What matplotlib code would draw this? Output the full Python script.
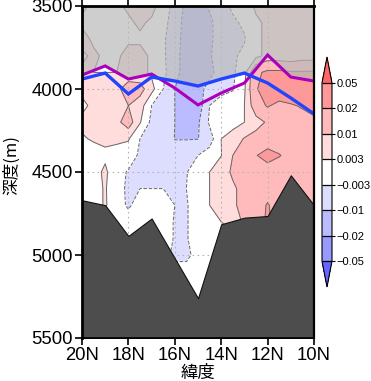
import numpy as np
import matplotlib
matplotlib.use("Agg")
import matplotlib.pyplot as plt
from matplotlib.colors import ListedColormap, BoundaryNorm

lats = [20, 19.5, 19, 18.5, 18, 17.5, 17, 16.5, 16, 15.5, 15, 14.5, 14, 13.5, 13, 12.5, 12, 11.5, 11, 10.5, 10]
depths = [3500, 3600, 3700, 3800, 3900, 4000, 4100, 4200, 4300, 4400, 4500, 4600, 4700, 4800, 4900, 5000, 5100, 5300, 5500]
# values in units of 0.001
field_milli = [
 [4, 2, 2, 2, 4, 5, 5, 0, -5, -12, -12, -9, -5, -2, 0, 4, 4, 5, 5, 4, 4],
 [2, 2, 3, 3, 2, 4, 2, -1, -6, -13, -13, -12, -5, -4, -2, 2, 4, 5, 6, 6, 5],
 [5, 2, 3, 2, 2, 2, 2, -2, -7, -13, -13, -12, -5, -5, -3.5, 2, 4, 4, 5, 6, 6],
 [2, 4, 2, 2, 5, 5, 2, -2, -7, -14, -14, -11, -5, -4, -1.5, 1, 5, 5, 4, 6, 6],
 [4, 3, 3, 3, 5, 5, 2, -1.5, -7, -14, -15, -13, -5, -4, 1, 18, 22, 22, 21, 21, 21],
 [4, 4, 4, 8, 14, 13, 5, -3, -10, -13, -14, -6, -5, -3.5, 2, 19, 26, 28, 28, 28, 28],
 [2, 4, 6, 6, 10, 6, -3, -5, -10, -12, -14, -3, 0, 1, 3, 15, 21, 17, 19, 21, 23],
 [4, 4, 4, 8, 14, 3.5, -4.5, -5, -10, -13, -11, -2, 0, 0.5, 3, 7, 11, 14, 15, 16, 18],
 [2.5, 3.5, 4, 4, 3.5, -3, -4, -5, -10.2, -10.2, -10.2, -6, 3, 6, 10.5, 13, 14, 15, 15, 15, 15],
 [1, 1, 2, 1, 0, -4, -5, -6, -7, -7, -3, 0, 2.8, 10, 13, 19.5, 24, 20.5, 17, 16, 16],
 [1, 1, 4, -1, -3.5, -5, -5, -5, -5, -3.2, -1, 3, 7, 11, 13, 14, 15, 15, 15, 15, 15],
 [1, 1, 3.5, -1, -4, -3, -3, -3, -3, -3, 0, 3, 6, 9, 12, 14, 15, 14, 15, 15, 15],
 [1, 1, 3.5, 0, -4, 0, 0, 0, -3, -3.5, 0, 3, 6, 9, 12, 14, 21, 14, 14, 14, 14],
 [0, 0, 0, 0, 0, 0, 0, 0, -3.5, -3.5, 0, 1, 3, 7, 11, 14, 22, 14, 14, 14, 14],
 [0, 0, 0, 0, 0, 0, 0, 0, -3.5, -3.5, 0, 0, 0, 0, 0, 0, 0, 0, 0, 0, 0],
 [0, 0, 0, 0, 0, 0, 0, 0, -5, -5, 0, 0, 0, 0, 0, 0, 0, 0, 0, 0, 0],
 [0, 0, 0, 0, 0, 0, 0, 0, 0, 0, 0, 0, 0, 0, 0, 0, 0, 0, 0, 0, 0],
 [0, 0, 0, 0, 0, 0, 0, 0, 0, 0, 0, 0, 0, 0, 0, 0, 0, 0, 0, 0, 0],
 [0, 0, 0, 0, 0, 0, 0, 0, 0, 0, 0, 0, 0, 0, 0, 0, 0, 0, 0, 0, 0],
]
levels = [-0.05, -0.02, -0.01, -0.003, 0.003, 0.01, 0.02, 0.05]
level_labels = ["\u22120.05", "\u22120.02", "\u22120.01", "\u22120.003", "0.003", "0.01", "0.02", "0.05"]
band_colors = ["#9999ff", "#bbbbff", "#ddddff", "#ffffff", "#ffdddd", "#ffbbbb", "#ff9999"]
under_color = "#6666ff"
over_color = "#ff6666"

line_lats = [20, 19, 18, 17, 16, 15, 14, 13, 12, 11, 10]
purple_depth = [3916, 3861, 3940, 3910, 3994, 4096, 4024, 3964, 3795, 3928, 3952]
blue_depth = [3940, 3904, 4030, 3928, 3952, 3982, 3940, 3904, 3964, 4054, 4150]
bottom_depth = [4670, 4700, 4885, 4780, 5020, 5260, 4815, 4775, 4765, 4520, 4700]

x_ticks = [20, 18, 16, 14, 12, 10]
x_labels = ["20N", "18N", "16N", "14N", "12N", "10N"]
y_ticks = [3500, 4000, 4500, 5000, 5500]

W, H = 371, 381
fig = plt.figure(figsize=(W / 100, H / 100), dpi=100)
ax = fig.add_axes([82 / W, 1 - 338 / H, (314 - 82) / W, (338 - 6) / H])
sans = ["Liberation Sans", "DejaVu Sans"]
cjk = ["Noto Sans CJK JP", "DejaVu Sans"]

field = np.array(field_milli) * 1e-3
cmap = ListedColormap(band_colors)
cmap.set_under(under_color)
cmap.set_over(over_color)
norm = BoundaryNorm(levels, cmap.N)
cf = ax.contourf(lats, depths, field, levels=levels, cmap=cmap, norm=norm, extend="both", zorder=1)
ax.contour(lats, depths, field, levels=levels, colors="#666666", linewidths=0.7, zorder=2)

# shaded layer above the shallower of the two lines
dense = np.linspace(10, 20, 401)
upper = np.minimum(np.interp(dense, line_lats[::-1], purple_depth[::-1]),
                   np.interp(dense, line_lats[::-1], blue_depth[::-1]))
ax.fill_between(dense, 3500, upper, color="#b8b8b8", alpha=0.68, lw=0, zorder=3)

ax.plot(line_lats, purple_depth, color="#aa00bb", lw=2.2, zorder=5, solid_joinstyle="miter")
ax.plot(line_lats, blue_depth, color="#2244ff", lw=2.4, zorder=6, solid_joinstyle="miter")
ax.fill_between(line_lats, bottom_depth, 5500, color="#4d4d4d", edgecolor="#111111", lw=0.8, zorder=7)

ax.set_xlim(20, 10)
ax.set_ylim(5500, 3500)
ax.set_xticks(x_ticks)
ax.set_xticklabels(x_labels, fontsize=13.3, family=sans)
ax.set_yticks(y_ticks)
ax.set_yticklabels([str(v) for v in y_ticks], fontsize=13.3, family=sans)
ax.tick_params(axis="both", which="major", length=5, width=1.2, color="black", pad=1.5)
ax.tick_params(axis="x", top=True)
ax.grid(True, color="#b4b4b4", lw=0.8, ls=(0, (1.5, 3)), zorder=8)
ax.set_axisbelow(False)
for name, width in [("left", 2.0), ("top", 2.0), ("right", 1.6), ("bottom", 1.2)]:
    ax.spines[name].set_linewidth(width)
    ax.spines[name].set_zorder(10)
ax.set_xlabel("緯度", fontsize=12.5, family=cjk, labelpad=0)
ax.set_ylabel("深度(m)", fontsize=12, family=cjk, labelpad=8, y=0.521)

cax = fig.add_axes([322 / W, 1 - 287 / H, 10 / W, (287 - 57) / H])
cb = fig.colorbar(cf, cax=cax, extend="both", extendfrac=26 / 178, spacing="uniform", ticks=levels, drawedges=True)
cb.ax.set_yticklabels(level_labels, fontsize=8, family=sans)
cb.ax.tick_params(length=2, width=0.8, pad=1)
cb.outline.set_linewidth(0.8)
cb.dividers.set_linewidth(0.9)

fig.savefig("out.png", dpi=100)
